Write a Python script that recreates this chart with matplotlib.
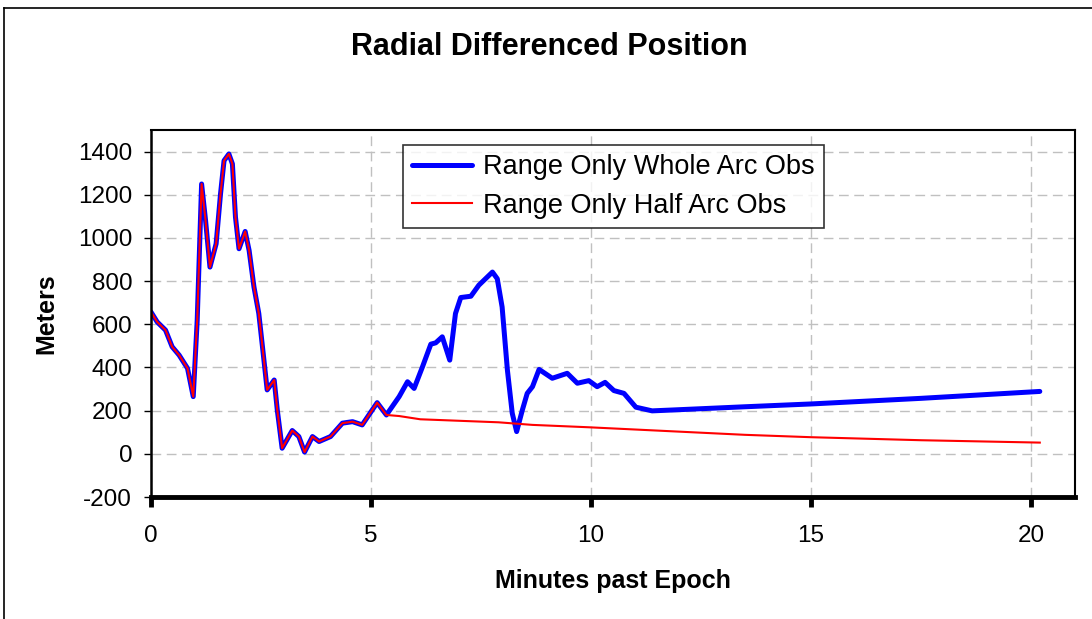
import matplotlib.pyplot as plt
from matplotlib.lines import Line2D

plt.rcParams['font.family'] = ['Liberation Sans', 'DejaVu Sans']
plt.rcParams['axes.unicode_minus'] = False

# shared part of both runs (minutes, meters)
t_common = [0.00, 0.14, 0.33, 0.48, 0.64, 0.83, 0.96, 1.05, 1.15, 1.24, 1.34, 1.48,
            1.58, 1.66, 1.77, 1.85, 1.92, 2.00, 2.14, 2.23, 2.34, 2.45, 2.55, 2.64,
            2.80, 2.87, 2.98, 3.21, 3.36, 3.49, 3.67, 3.82, 4.08, 4.35, 4.58, 4.80,
            5.14, 5.35]
v_common = [657, 611, 573, 496, 457, 396, 265, 619, 1250, 1081, 865, 973,
            1204, 1358, 1389, 1343, 1096, 950, 1030, 942, 773, 650, 465, 296,
            342, 203, 26, 108, 80, 8, 80, 57, 80, 142, 149, 134,
            237, 180]

# whole arc continues
t_whole = [5.64, 5.83, 5.98, 6.17, 6.36, 6.47, 6.62, 6.79, 6.92, 7.04, 7.27, 7.45,
           7.76, 7.87, 7.98, 8.10, 8.21, 8.31, 8.44, 8.55, 8.67, 8.82, 9.12, 9.46,
           9.69, 9.95, 10.14, 10.32, 10.52, 10.75, 11.02, 11.39, 11.85, 13.5, 15.0,
           17.5, 20.2]
v_whole = [265, 334, 303, 403, 508, 514, 542, 434, 650, 724, 730, 781,
           842, 811, 680, 388, 188, 103, 203, 280, 311, 391, 350, 373,
           327, 339, 311, 331, 293, 280, 216, 199, 203, 218, 231,
           257, 289]

# half arc propagates
t_half = [5.64, 6.12, 7.9, 8.67, 9.95, 13.5, 15.0, 17.5, 20.2]
v_half = [175, 160, 146, 134, 123, 88, 77, 63, 52]

x_ticks = [0, 5, 10, 15, 20]
y_ticks = [-200, 0, 200, 400, 600, 800, 1000, 1200, 1400]

fig = plt.figure(figsize=(10.92, 6.19), dpi=100)
ax = fig.add_axes([151 / 1092, 1 - 497 / 619, (1075 - 151) / 1092, (497 - 130) / 619])

ax.plot(t_common + t_whole, v_common + v_whole, color='#0000ff', lw=3.6,
        solid_capstyle='round', solid_joinstyle='round', label='Range Only Whole Arc Obs')
ax.plot(t_common + t_half, v_common + v_half, color='#ff0000', lw=1.5,
        solid_joinstyle='round', label='Range Only Half Arc Obs')

ax.set_xlim(0, 21)
ax.set_ylim(-200, 1500)
ax.set_xticks(x_ticks)
ax.set_yticks(y_ticks)
ax.tick_params(axis='both', labelsize=17.5, colors='black')
ax.tick_params(axis='y', length=5, width=1, pad=8.5)
ax.tick_params(axis='x', length=7, width=3.5, pad=13)
ax.grid(True, color='#c0c0c0', linestyle=(0, (7, 4)), lw=1)
ax.set_axisbelow(True)

ax.spines['bottom'].set_linewidth(3.5)
ax.spines['left'].set_linewidth(1.8)
ax.spines['top'].set_linewidth(1.5)
ax.spines['right'].set_linewidth(1.5)

ax.set_xlabel('Minutes past Epoch', fontsize=18, fontweight='bold', labelpad=16)
ax.set_ylabel('Meters', fontsize=18, fontweight='bold', labelpad=14)

fig.text(549 / 1092, 1 - 47 / 619, 'Radial Differenced Position', fontsize=22,
         fontweight='bold', ha='center', va='center')

leg = ax.legend(loc='upper left', bbox_to_anchor=(403 / 1092, 1 - 145 / 619),
                bbox_transform=fig.transFigure, fontsize=19.5, frameon=True,
                fancybox=False, edgecolor='black', handlelength=2.2,
                handletextpad=0.4, borderpad=0.35, labelspacing=0.45,
                borderaxespad=0)
leg.get_frame().set_linewidth(1.2)

# outer chart border (top and left only visible)
fig.add_artist(Line2D([4 / 1092, 4 / 1092], [0, 1 - 8 / 619], color='black', lw=1.2,
                      transform=fig.transFigure))
fig.add_artist(Line2D([4 / 1092, 1], [1 - 8 / 619, 1 - 8 / 619], color='black', lw=1.2,
                      transform=fig.transFigure))

plt.savefig('out.png', dpi=100)
